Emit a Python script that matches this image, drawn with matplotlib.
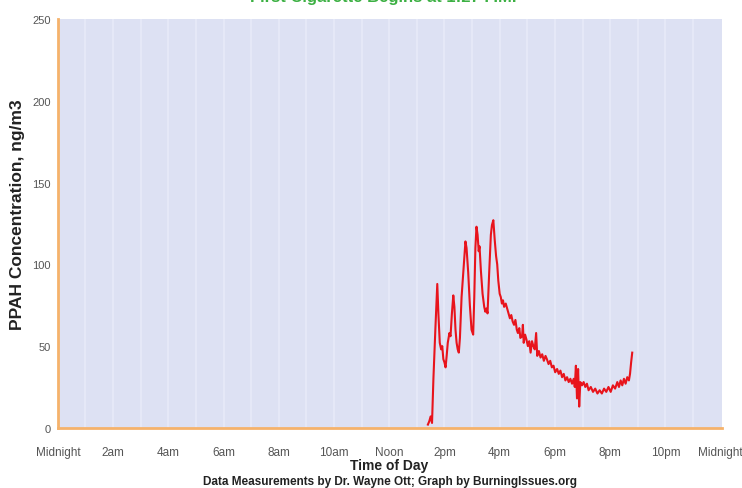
import matplotlib
matplotlib.use("Agg")
import matplotlib.pyplot as plt

plt.rcParams['font.family'] = ['Liberation Sans', 'DejaVu Sans']

# PPAH readings, time of day in hours
hours = [13.40, 13.45, 13.50, 13.55, 13.60, 13.67, 13.74, 13.78, 13.83, 13.88,
         13.92, 13.96, 14.00, 14.04, 14.08, 14.12, 14.18, 14.22, 14.27, 14.32,
         14.36, 14.40, 14.44, 14.48, 14.52, 14.56, 14.62, 14.70, 14.76, 14.80,
         14.86, 14.92, 14.98, 15.04, 15.08, 15.12, 15.16, 15.20, 15.24, 15.27,
         15.32, 15.38, 15.44, 15.48, 15.52, 15.56, 15.62, 15.68, 15.72, 15.77,
         15.82, 15.87, 15.91, 15.95, 16.00, 16.04, 16.08, 16.12, 16.16, 16.22,
         16.27, 16.32, 16.37, 16.42, 16.47, 16.52, 16.57, 16.62, 16.66, 16.71,
         16.75, 16.81, 16.84, 16.87, 16.92, 16.97, 17.02, 17.07, 17.12, 17.17,
         17.22, 17.27, 17.32, 17.36, 17.42, 17.48, 17.54, 17.60, 17.66, 17.71,
         17.77, 17.83, 17.89, 17.95, 18.01, 18.08, 18.14, 18.20, 18.26, 18.32,
         18.38, 18.44, 18.50, 18.56, 18.62, 18.68, 18.72, 18.76, 18.80, 18.84,
         18.88, 18.92, 18.98, 19.04, 19.10, 19.16, 19.22, 19.30, 19.38, 19.46,
         19.54, 19.62, 19.70, 19.78, 19.86, 19.94, 20.02, 20.10, 20.18, 20.26,
         20.32, 20.38, 20.44, 20.50, 20.56, 20.62, 20.68, 20.72, 20.76, 20.80]
ppah = [2, 4, 7, 3, 30, 60, 88, 70, 52, 48,
        50, 42, 40, 37, 44, 52, 58, 56, 70, 81,
        74, 60, 52, 48, 46, 55, 80, 100, 114, 110,
        95, 75, 60, 57, 80, 110, 123, 118, 108, 111,
        96, 82, 74, 71, 73, 70, 95, 118, 124, 127,
        115, 105, 100, 90, 82, 80, 76, 78, 74, 76,
        73, 70, 67, 69, 65, 63, 66, 60, 58, 61,
        55, 56, 63, 52, 57, 54, 50, 53, 46, 53,
        50, 48, 58, 44, 47, 43, 45, 41, 44, 42,
        39, 41, 37, 38, 34, 36, 33, 35, 31, 33,
        29, 31, 28, 30, 27, 30, 25, 38, 18, 36,
        13, 28, 26, 28, 25, 27, 23, 25, 22, 24,
        21, 23, 21, 24, 22, 25, 22, 26, 24, 28,
        25, 29, 26, 30, 27, 31, 29, 33, 40, 46]

tick_hours = [0, 2, 4, 6, 8, 10, 12, 14, 16, 18, 20, 22, 24]
tick_labels = ['Midnight', '2am', '4am', '6am', '8am', '10am', 'Noon',
               '2pm', '4pm', '6pm', '8pm', '10pm', 'Midnight']

fig = plt.figure(figsize=(7.42, 4.89), dpi=100)
ax = fig.add_axes([0.078, 0.123, 0.895, 0.836])
ax.set_facecolor('#dde1f3')

# faint hourly grid lines
for h in range(1, 24):
    ax.axvline(h, color='#e7eaf8', lw=1.2, zorder=1)

ax.plot(hours, ppah, color='#e8141c', lw=1.5, zorder=3)

ax.set_xlim(0, 24.05)
ax.set_ylim(0, 250)
ax.set_xticks(tick_hours)
ax.set_xticklabels(tick_labels)
ax.set_yticks([0, 50, 100, 150, 200, 250])
ax.tick_params(axis='x', length=0, pad=13, labelsize=8.5, colors='#555555')
ax.tick_params(axis='y', length=0, pad=5, labelsize=8, colors='#555555')

for s in ['top', 'right']:
    ax.spines[s].set_visible(False)
for s in ['left', 'bottom']:
    ax.spines[s].set_color('#f5b26b')
    ax.spines[s].set_linewidth(2)

fig.text(0.023, 0.56, 'PPAH Concentration, ng/m3', rotation=90, ha='center', va='center',
         fontsize=12.5, fontweight='bold', color='#222222')
fig.text(0.525, 0.047, 'Time of Day', ha='center', va='center',
         fontsize=10, fontweight='bold', color='#222222')
fig.text(0.526, 0.015, 'Data Measurements by Dr. Wayne Ott; Graph by BurningIssues.org',
         ha='center', va='center', fontsize=8.5, fontweight='bold', color='#222222')

# title sits mostly above the top edge
fig.text(0.516, 0.996, 'First Cigarette Begins at 1:27 P.M.', ha='center', va='baseline',
         fontsize=12, fontweight='bold', color='#3cb043')

fig.savefig('out.png', dpi=100)
